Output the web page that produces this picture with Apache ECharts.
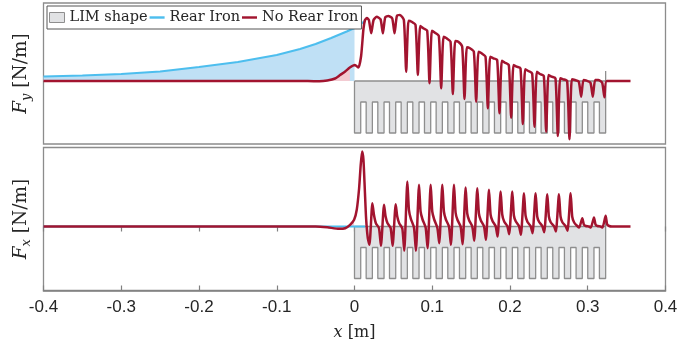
<!DOCTYPE html>
<html><head><meta charset="utf-8">
<script src="https://cdn.jsdelivr.net/npm/echarts@6/dist/echarts.min.js"></script>
<style>html,body{margin:0;padding:0;background:#fff}#c{width:699px;height:347px}</style>
</head><body><div id="c"></div>
<script>
// ---------- data (x in m, forces in arbitrary N/m units) ----------
const xMin = -0.4, xMax = 0.4, xStep = 0.1;

// Fy, no rear iron
const fyRedX = [-0.4, -0.06, -0.045, -0.035, -0.025, -0.0185, -0.012, -0.006, 0.0005, 0.005, 0.0085, 0.0115, 0.0135, 0.016, 0.0185,
  0.0215, 0.0245, 0.0285, 0.0335,
  0.0365, 0.0395, 0.0435, 0.0485,
  0.0515, 0.0545, 0.0585, 0.0635,
  0.0665, 0.0695, 0.0735, 0.0785,
  0.0815, 0.0845, 0.0885, 0.0935,
  0.0965, 0.0995, 0.1035, 0.1085,
  0.1115, 0.1145, 0.1185, 0.1235,
  0.1265, 0.1295, 0.1335, 0.1385,
  0.1415, 0.1445, 0.1485, 0.1535,
  0.1565, 0.1595, 0.1635, 0.1685,
  0.1715, 0.1745, 0.1785, 0.1835,
  0.1865, 0.1895, 0.1935, 0.1985,
  0.2015, 0.2045, 0.2085, 0.2135,
  0.2165, 0.2195, 0.2235, 0.2285,
  0.2315, 0.2345, 0.2385, 0.2435,
  0.2465, 0.2495, 0.2535, 0.2585,
  0.2615, 0.2645, 0.2685, 0.2735,
  0.2765, 0.2795, 0.2835, 0.2885,
  0.2915, 0.2945, 0.2985, 0.3035,
  0.3065, 0.3095, 0.3135, 0.3185,
  0.3215, 0.3245, 0.355];
const fyRedY = [0, 0, -0.3, 0.5, 2.5, 6, 9.5, 13.5, 16, 13.5, 25, 52, 61, 63, 61,
  47.7, 61, 64.3, 61.7,
  47.7, 63.7, 65, 62.7,
  47.7, 65, 66, 61,
  9.3, 60.3, 59.3, 56,
  6, 55, 52.7, 50.3,
  -2.3, 50.3, 48.3, 45,
  -7.3, 44.3, 42.7, 39.3,
  -13, 40, 39.3, 34.3,
  -18, 33.7, 32.7, 29.3,
  -20.7, 29.3, 27.7, 24.3,
  -27.3, 24.3, 22.7, 21,
  -32.3, 20.3, 18.3, 16,
  -36.7, 16, 14.3, 12.7,
  -43, 11.7, 10, 7.7,
  -45.7, 9.3, 7, 5,
  -50.7, 6, 4.3, 2.7,
  -55, 2.7, 1.7, 0,
  -58.3, 1.7, 1, -0.7,
  -15.7, 1, 0.3, -1.7,
  -15.7, 1, 1, -1.7,
  -16.3, 0, 0];

// Fy, rear iron
const fyBlueX = [-0.4, -0.35, -0.3, -0.25, -0.2, -0.15, -0.1, -0.07, -0.05, -0.03, -0.01, 0, 0.005, 0.01, 0.013];
const fyBlueY = [4.5, 5.5, 7, 9.5, 14, 19, 26, 32, 37, 43, 49.5, 53, 55, 58, 60];

// Fx, no rear iron
const fxRedX = [-0.4, -0.05, -0.035, -0.02, -0.012, -0.0057, -0.0005, 0.0029, 0.0059, 0.008, 0.0098, 0.0115, 0.0132, 0.0149, 0.0171, 0.0192,
  0.023, 0.025, 0.0275, 0.0315, 0.034,
  0.038, 0.040, 0.0425, 0.0465, 0.049,
  0.053, 0.055, 0.0575, 0.0615, 0.064,
  0.068, 0.070, 0.0725, 0.0765, 0.079,
  0.083, 0.085, 0.0875, 0.0915, 0.094,
  0.098, 0.100, 0.1025, 0.1065, 0.109,
  0.113, 0.115, 0.1175, 0.1215, 0.124,
  0.128, 0.130, 0.1325, 0.1365, 0.139,
  0.143, 0.145, 0.1475, 0.1515, 0.154,
  0.158, 0.160, 0.1625, 0.1665, 0.169,
  0.173, 0.175, 0.1775, 0.1815, 0.184,
  0.188, 0.190, 0.1925, 0.1965, 0.199,
  0.203, 0.205, 0.2075, 0.2115, 0.214,
  0.218, 0.220, 0.2225, 0.2265, 0.229,
  0.233, 0.235, 0.2375, 0.2415, 0.244,
  0.248, 0.250, 0.2525, 0.2565, 0.259,
  0.263, 0.265, 0.2675, 0.2715, 0.274,
  0.278, 0.280, 0.2825, 0.2865, 0.289,
  0.293, 0.295, 0.2975, 0.3015, 0.304,
  0.308, 0.310, 0.3125, 0.3165, 0.319,
  0.323, 0.325, 0.3275, 0.331, 0.355];
const fxRedY = [0, 0, -0.8, -2.3, -1.7, 1.7, 6.7, 16.7, 38, 61.7, 75, 66.7, 38, 8.3, -11.7, -18.3,
  23.3, 11.7, 3.3, -1.7, -19.3,
  21.7, 10, 3.3, -1.5, -19.3,
  22.3, 10, 3.3, -2, -24.3,
  45, 16.7, 7.7, -1, -24.3,
  41.7, 15, 7, -1, -21.7,
  41.7, 15, 7, -1, -16.7,
  41.7, 15, 7, 0, -18.3,
  41.7, 14, 6.5, 0, -17.7,
  39, 13, 6, 0, -14.3,
  38.3, 13, 6, 0.5, -13.3,
  36.7, 12, 5.5, 0.5, -10,
  35, 12, 5, 0.5, -7.7,
  35, 11, 5, 0.5, -8.3,
  33.3, 11, 4.5, 0.5, -6.7,
  33.3, 10, 4.5, 0.5, -5.7,
  32.3, 10, 4, 0.5, -5,
  32.3, 10, 4, 0.5, -4.3,
  33.3, 10, 4, 0.5, -1,
  8.3, 2, 0.5, 0, -1,
  9, 2, 0.5, 0, -1,
  10.7, 2, 0.5, 0, 0];

// Fx, rear iron
const fxBlueX = [-0.4, 0.0135];
const fxBlueY = [0, 0];

// LIM shape (data units): slot openings along x, depths
const limSlotStart = [0.008, 0.023, 0.038, 0.053, 0.068, 0.083, 0.098, 0.113, 0.128, 0.143, 0.158,
  0.173, 0.188, 0.203, 0.218, 0.233, 0.248, 0.263, 0.278, 0.293, 0.308];
const limSlotWidth = 0.007;
const limEnd = 0.323;
const limYoke = -21, limTooth = -52, limStub = 10;

// ---------- build ----------
const zip = (xs, ys) => xs.map((x, i) => [x, ys[i]]);
const limPts = [[0, 0], [0, limTooth]];
limSlotStart.forEach(s => {
  limPts.push([s, limTooth], [s, limYoke], [s + limSlotWidth, limYoke], [s + limSlotWidth, limTooth]);
});
limPts.push([limEnd, limTooth], [limEnd, limStub]);
const limTop = [[0, 0], [limEnd, 0]];

const RED = '#A2142F', BLUE = '#4DBEEE';
const GRAY_FILL = '#E1E2E4', GRAY_LINE = '#8E8E8E';
const SERIF = "'DejaVu Serif', serif";
const LINE_ICON = 'path://M0,0 L16,0 L16,2.6 L0,2.6 Z';

function panelSeries(g, redX, redY, blueX, blueY) {
  const red = zip(redX, redY), blue = zip(blueX, blueY);
  return [
    { name: 'fillB' + g, type: 'line', xAxisIndex: g === 0 ? 0 : 1, yAxisIndex: g, data: blue.filter(p => p[0] <= 0),
      symbol: 'none', lineStyle: { width: 0 }, areaStyle: { color: '#BFE0F5', opacity: 1 }, silent: true, z: 1 },
    { name: 'fillR' + g, type: 'line', xAxisIndex: g === 0 ? 0 : 1, yAxisIndex: g, data: red.filter(p => p[0] <= 0),
      symbol: 'none', lineStyle: { width: 0 }, areaStyle: { color: '#F3CBD2', opacity: 1 }, silent: true, z: 1 },
    { name: 'LIM shape', type: 'line', xAxisIndex: g === 0 ? 0 : 1, yAxisIndex: g, data: limPts,
      symbol: 'none', lineStyle: { color: GRAY_LINE, width: 1.3 }, itemStyle: { color: GRAY_FILL },
      areaStyle: { color: GRAY_FILL, opacity: 1 }, z: 2 },
    { name: 'limTop' + g, type: 'line', xAxisIndex: g === 0 ? 0 : 1, yAxisIndex: g, data: limTop,
      symbol: 'none', lineStyle: { color: GRAY_LINE, width: 1.3 }, z: 2 },
    { name: 'Rear Iron', type: 'line', xAxisIndex: g === 0 ? 0 : 1, yAxisIndex: g, data: blue,
      symbol: 'none', lineStyle: { color: BLUE, width: 2.2 }, itemStyle: { color: BLUE }, z: 3 },
    { name: 'No Rear Iron', type: 'line', xAxisIndex: g === 0 ? 0 : 1, yAxisIndex: g, data: red,
      symbol: 'none', smooth: 0.2, lineStyle: { color: RED, width: 2.5 }, itemStyle: { color: RED }, z: 4 }
  ];
}

const yName = (sub) => ({
  name: '{i|F}{s|' + sub + '} [N/m]',
  nameLocation: 'middle', nameGap: 10, nameRotate: 90,
  nameTextStyle: { fontFamily: SERIF, fontSize: 18.5, color: '#262626', lineHeight: 24,
    rich: { i: { fontFamily: SERIF, fontStyle: 'italic', fontSize: 18.5, color: '#262626', lineHeight: 24 },
            s: { fontFamily: SERIF, fontStyle: 'italic', fontSize: 13, color: '#262626', lineHeight: 11, verticalAlign: 'bottom' } } }
});

const chart = echarts.init(document.getElementById('c'), null, { renderer: 'canvas' });
chart.setOption({
  animation: false,
  backgroundColor: '#ffffff',
  grid: [
    { left: 43.5, right: 33.5, top: 3, height: 141, show: true, borderColor: '#8c8c8c', borderWidth: 1.3 },
    { left: 43.5, right: 33.5, top: 147.5, height: 143, show: true, borderColor: '#8c8c8c', borderWidth: 1.3 }
  ],
  legend: {
    left: 47, top: 6, orient: 'horizontal', itemWidth: 15, itemHeight: 10, itemGap: 2,
    padding: [4, 3, 4, 2], backgroundColor: '#fff', borderColor: '#555', borderWidth: 1, borderRadius: 0,
    textStyle: { fontFamily: SERIF, fontSize: 14.5, color: '#262626' },
    data: [
      { name: 'LIM shape', icon: 'rect', itemStyle: { color: GRAY_FILL, borderColor: GRAY_LINE, borderWidth: 1 } },
      { name: 'Rear Iron', icon: LINE_ICON, itemStyle: { color: BLUE, borderWidth: 0 } },
      { name: 'No Rear Iron', icon: LINE_ICON, itemStyle: { color: RED, borderWidth: 0 } }
    ]
  },
  xAxis: [
    { gridIndex: 0, type: 'value', min: xMin, max: xMax, interval: xStep,
      axisLine: { show: false }, axisTick: { show: false }, axisLabel: { show: false }, splitLine: { show: false } },
    { gridIndex: 1, type: 'value', position: 'bottom', min: xMin, max: xMax, interval: xStep,
      axisLine: { show: true, onZero: false, lineStyle: { color: '#808080', width: 1.6 } },
      axisTick: { show: true, inside: true, length: 5, lineStyle: { color: '#808080', width: 1.2 } },
      axisLabel: { show: true, margin: 8, color: '#262626', fontFamily: "'Liberation Sans Narrow','Liberation Sans',sans-serif", fontSize: 17 },
      splitLine: { show: false },
      name: '{i|x} [m]', nameLocation: 'middle', nameGap: 34,
      nameTextStyle: { fontFamily: SERIF, fontSize: 16, color: '#262626',
        rich: { i: { fontFamily: SERIF, fontStyle: 'italic', fontSize: 16, color: '#262626' } } } },
    { gridIndex: 1, type: 'value', position: 'top', min: xMin, max: xMax, interval: xStep,
      axisLine: { show: false }, axisTick: { show: true, inside: true, length: 5, lineStyle: { color: '#808080', width: 1.2 } },
      axisLabel: { show: false }, splitLine: { show: false } }
  ],
  yAxis: [
    Object.assign({ gridIndex: 0, type: 'value', min: -63, max: 78,
      axisLine: { show: false }, axisTick: { show: false }, axisLabel: { show: false }, splitLine: { show: false } }, yName('y')),
    Object.assign({ gridIndex: 1, type: 'value', min: -64, max: 79,
      axisLine: { show: false }, axisTick: { show: false }, axisLabel: { show: false }, splitLine: { show: false } }, yName('x'))
  ],
  series: [
    ...panelSeries(0, fyRedX, fyRedY, fyBlueX, fyBlueY),
    ...panelSeries(1, fxRedX, fxRedY, fxBlueX, fxBlueY)
  ]
});
</script>
</body></html>
